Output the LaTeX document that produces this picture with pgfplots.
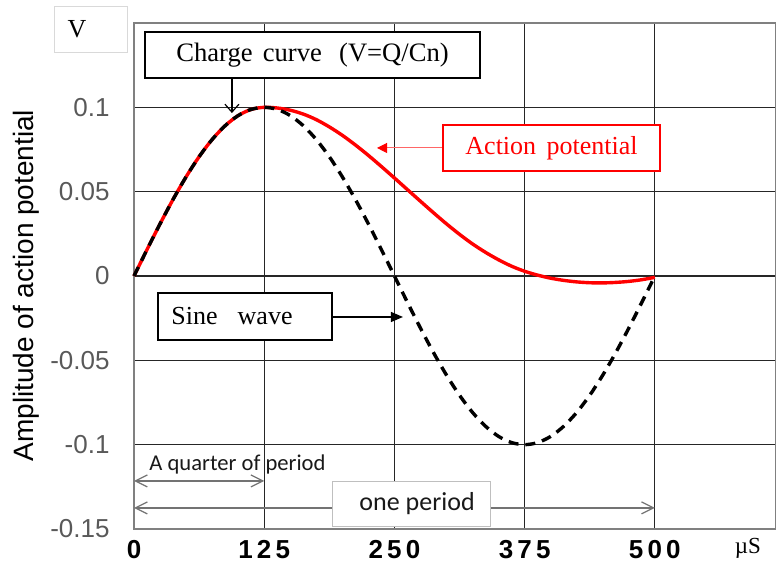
\documentclass[border=0pt]{standalone}
\usepackage{pgfplots}
\pgfplotsset{compat=1.18}
\usepackage{fontspec}
\setmainfont{Liberation Serif}
\setsansfont{Liberation Sans}
\newfontfamily\calfont{Carlito}
\newfontfamily\xtf[LetterSpace=16]{Liberation Sans}
\usetikzlibrary{arrows.meta}
\begin{document}
\begin{tikzpicture}
\begin{axis}[name=ax, scale only axis, width=321pt, height=253pt,
 xmin=0, xmax=616.3, ymin=-0.15, ymax=0.15, clip=false,
 xtick={0,125,250,375,500}, xticklabels={0,125,250,375,500},
 ytick={-0.15,-0.1,-0.05,0,0.05,0.1}, yticklabels={-0.15,-0.1,-0.05,0,0.05,0.1},
 grid=major, major grid style={draw=black!85, line width=0.6pt},
 axis line style={draw=gray, line width=1pt},
 major tick length=0pt,
 x tick label style={font=\xtf\bfseries\fontsize{13}{15}\selectfont, text=black, yshift=-2pt},
 y tick label style={font=\sffamily\fontsize{13}{15}\selectfont, text=black!65, xshift=-8.7pt},
 ylabel={Amplitude of action potential},
 ylabel style={font=\sffamily\fontsize{14}{16}\selectfont, at={(axis description cs:-0.168,0.481)}, anchor=center},
]
% Action potential
\addplot[red, line width=1.7pt, smooth] table {
t v
0 0
12.5 0.015643
25 0.030902
37.5 0.045399
50 0.058779
62.5 0.070711
75 0.080902
87.5 0.089101
100 0.095106
112.5 0.098769
125 0.1
137.5 0.0996
150 0.0983
162.5 0.0960
175 0.0927
187.5 0.0884
200 0.0834
212.5 0.0777
225 0.0715
237.5 0.0649
250 0.0581
262.5 0.0512
275 0.0443
287.5 0.0375
300 0.0309
312.5 0.0247
325 0.0190
337.5 0.0140
350 0.0096
362.5 0.0058
375 0.0028
387.5 0.0005
400 -0.0013
412.5 -0.0026
425 -0.0035
437.5 -0.0040
450 -0.0041
462.5 -0.0038
475 -0.0032
487.5 -0.0022
500 -0.0008
};
% Sine wave
\addplot[black, line width=1.7pt, dash pattern=on 5pt off 3.5pt, smooth] table {
t v
0 0
12.5 0.015643
25 0.030902
37.5 0.045399
50 0.058779
62.5 0.070711
75 0.080902
87.5 0.089101
100 0.095106
112.5 0.098769
125 0.1
137.5 0.098769
150 0.095106
162.5 0.089101
175 0.080902
187.5 0.070711
200 0.058779
212.5 0.045399
225 0.030902
237.5 0.015643
250 0
262.5 -0.015643
275 -0.030902
287.5 -0.045399
300 -0.058779
312.5 -0.070711
325 -0.080902
337.5 -0.089101
350 -0.095106
362.5 -0.098769
375 -0.1
387.5 -0.098769
400 -0.095106
412.5 -0.089101
425 -0.080902
437.5 -0.070711
450 -0.058779
462.5 -0.045399
475 -0.030902
487.5 -0.015643
500 0
};
% V unit box
\node[draw=black!15, fill=white, minimum width=36.5pt, minimum height=23pt, inner sep=0pt] at (axis cs:-41,0.1464) {};
\node[font=\fontsize{13}{15}\selectfont, inner sep=0pt] at (axis cs:-54.7,0.1464) {V};
% Charge curve
\draw[black, line width=0.6pt, -{Straight Barb[length=4pt,width=7pt]}] (axis cs:94,0.1174) -- (axis cs:94,0.0966);
\node[draw=black, line width=0.7pt, fill=white, minimum width=167.5pt, minimum height=23pt, inner sep=0pt, font=\fontsize{13.3}{15}\selectfont] at (axis cs:171.4,0.131) {Charge\hspace{0.38em}curve\hspace{0.65em}(V=Q/Cn)};
% Action potential label
\draw[red!60, line width=0.5pt, -{Triangle[length=5pt,width=5pt,fill=red,color=red]}] (axis cs:296.6,0.0759) -- (axis cs:233.3,0.0759);
\node[draw=red, line width=0.7pt, fill=white, minimum width=108.5pt, minimum height=23pt, inner sep=0pt, text=red, font=\fontsize{13}{15}\selectfont] at (axis cs:400.8,0.0759) {Action\hspace{0.4em}potential};
% Sine wave label
\draw[black, line width=0.6pt, -{Triangle[length=6pt,width=5pt]}] (axis cs:190,-0.0243) -- (axis cs:258.2,-0.0243);
\node[draw=black, line width=0.8pt, fill=white, minimum width=87pt, minimum height=23.5pt, inner sep=0pt] at (axis cs:106.6,-0.024) {};
\node[font=\fontsize{13}{15}\selectfont, inner sep=0pt] at (axis cs:94.1,-0.024) {Sine\hspace{10pt}wave};
% Quarter of period
\draw[black!55, line width=0.6pt, {Straight Barb[length=6pt,width=6pt]}-{Straight Barb[length=6pt,width=6pt]}] (axis cs:0,-0.1215) -- (axis cs:125,-0.1215);
\node[anchor=west, inner sep=0pt, font=\calfont\fontsize{11.3}{13}\selectfont, text=black!90] at (axis cs:14.4,-0.112) {A quarter of period};
% One period
\draw[black!55, line width=0.6pt, {Straight Barb[length=6pt,width=6pt]}-{Straight Barb[length=6pt,width=6pt]}] (axis cs:0,-0.1375) -- (axis cs:500,-0.1375);
\node[draw=black!25, line width=0.5pt, fill=white, minimum width=79pt, minimum height=22.5pt, inner sep=0pt, font=\calfont\fontsize{13}{15}\selectfont, text=black!90] at (axis cs:266,-0.1349) {\hspace{6pt}one period};
% unit
\node[font=\fontsize{11.5}{13}\selectfont, inner sep=0pt] at (axis cs:589.4,-0.1612) {µS};
\end{axis}
\pgfresetboundingbox
\path[use as bounding box] ([xshift=-67pt,yshift=-18pt]ax.south west) rectangle ([yshift=11.5pt]ax.north east);
\end{tikzpicture}
\end{document}
